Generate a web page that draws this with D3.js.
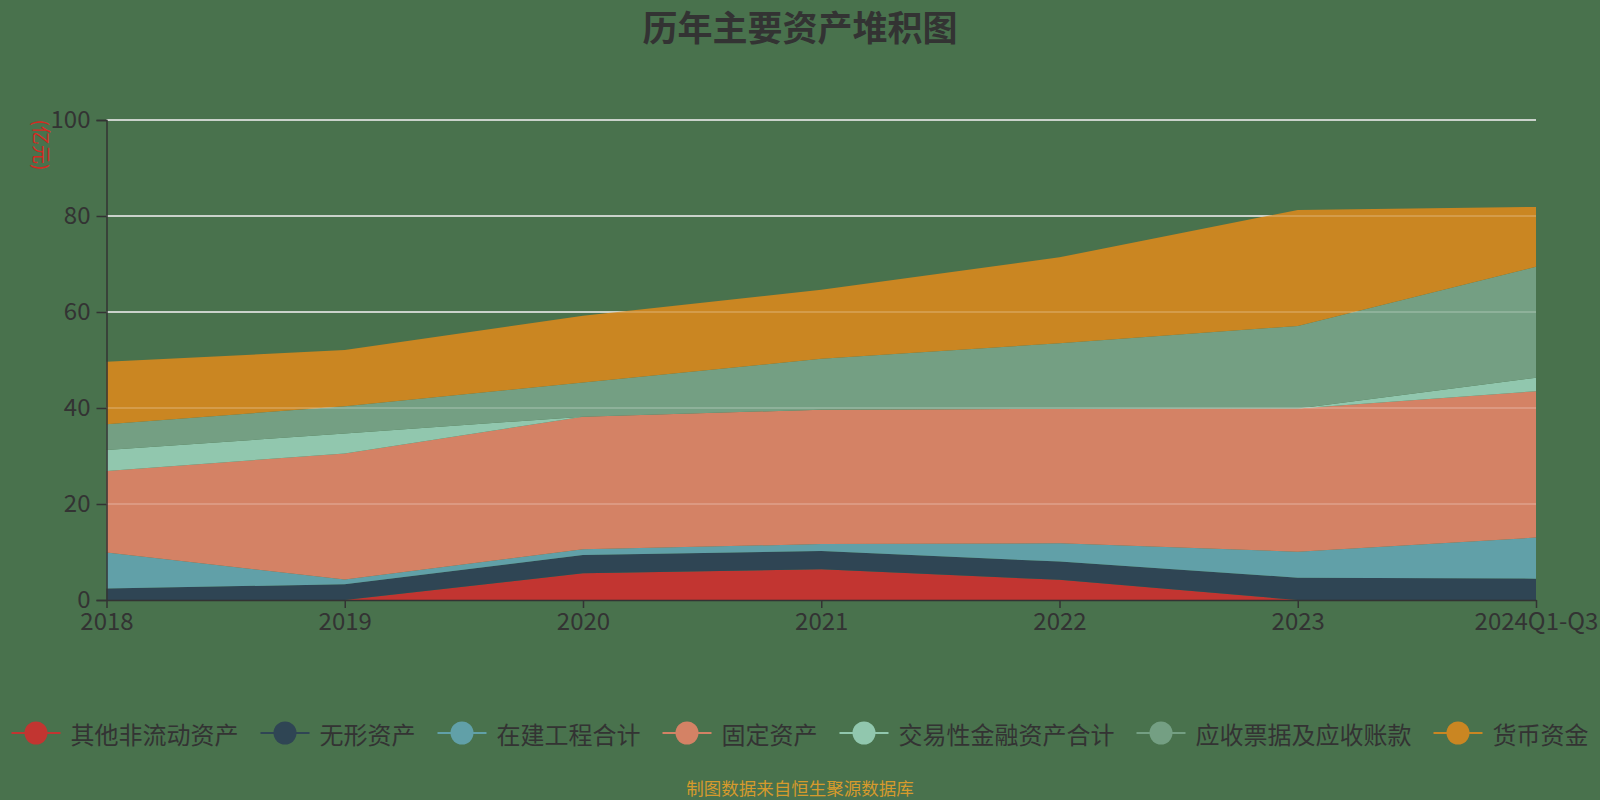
<!DOCTYPE html>
<html>
<head>
<meta charset="utf-8">
<script src="https://cdn.jsdelivr.net/npm/d3@7"></script>
<style>
  html, body { margin: 0; padding: 0; background: #49724d; }
  svg { display: block; font-family: "Noto Sans CJK SC", "Noto Sans", sans-serif; }
</style>
</head>
<body>
<div id="chart"></div>
<script>
// Categories and series (亿元), bottom of the stack first
const years = ['2018', '2019', '2020', '2021', '2022', '2023', '2024Q1-Q3'];
const otherNonCurrent = [0, 0, 5.55, 6.4, 4.2, 0, 0];
const intangible = [2.4, 3.27, 3.85, 3.8, 3.8, 4.65, 4.45];
const construction = [7.5, 1.0, 1.15, 1.45, 3.8, 5.4, 8.55];
const fixedAssets = [17.0, 26.25, 27.65, 28.0, 28.0, 29.85, 30.5];
const tradingFin = [4.35, 4.15, 0, 0, 0, 0, 2.8];
const receivables = [5.35, 5.7, 7.1, 10.6, 13.7, 17.2, 23.15];
const cash = [13.05, 11.7, 13.9, 14.4, 17.9, 24.15, 12.45];

const seriesNames = ['其他非流动资产', '无形资产', '在建工程合计', '固定资产', '交易性金融资产合计', '应收票据及应收账款', '货币资金'];
const seriesValues = [otherNonCurrent, intangible, construction, fixedAssets, tradingFin, receivables, cash];
const colors = ['#c23531', '#2f4554', '#61a0a8', '#d48265', '#91c7ae', '#749f83', '#ca8622'];
const yTicks = [0, 20, 40, 60, 80, 100];

const width = 1600, height = 800;
const margin = { top: 120, right: 64, bottom: 200, left: 106.5 };

const svg = d3.select('#chart')
  .append('svg')
  .attr('width', width)
  .attr('height', height);

// Build the table rows the stack needs
const rows = years.map((year, i) => {
  const row = { year };
  seriesNames.forEach((name, s) => { row[name] = seriesValues[s][i]; });
  return row;
});

const x = d3.scalePoint()
  .domain(years)
  .range([margin.left, width - margin.right]);

const y = d3.scaleLinear()
  .domain([0, 100])
  .range([height - margin.bottom, margin.top]);

const stacked = d3.stack().keys(seriesNames)(rows);

// Grid lines under the areas
svg.append('g')
  .selectAll('line')
  .data(yTicks.filter(d => d > 0))
  .join('line')
  .attr('x1', x.range()[0])
  .attr('x2', x.range()[1])
  .attr('y1', d => y(d))
  .attr('y2', d => y(d))
  .attr('stroke', '#e6e6e6')
  .attr('stroke-width', 1.5);

const area = d3.area()
  .x(d => x(d.data.year))
  .y0(d => y(d[0]))
  .y1(d => y(d[1]));

svg.append('g')
  .selectAll('path')
  .data(stacked)
  .join('path')
  .attr('fill', (d, i) => colors[i])
  .attr('d', area);

// Faint grid lines showing through the areas
svg.append('g')
  .selectAll('line')
  .data(yTicks.filter(d => d > 0))
  .join('line')
  .attr('x1', x.range()[0])
  .attr('x2', x.range()[1])
  .attr('y1', d => y(d))
  .attr('y2', d => y(d))
  .attr('stroke', '#ffffff')
  .attr('stroke-opacity', 0.25)
  .attr('stroke-width', 1.5);

// Axes
const yAxis = d3.axisLeft(y)
  .tickValues(yTicks)
  .tickSize(10)
  .tickPadding(6);

const yAxisGroup = svg.append('g')
  .attr('transform', `translate(${margin.left},0)`)
  .call(yAxis);

const xAxis = d3.axisBottom(x)
  .tickSize(8)
  .tickPadding(5)
  .tickSizeOuter(0);

const xAxisGroup = svg.append('g')
  .attr('transform', `translate(0,${height - margin.bottom})`)
  .call(xAxis);

[yAxisGroup, xAxisGroup].forEach(g => {
  g.select('.domain').attr('stroke', '#333').attr('stroke-width', 1.5);
  g.selectAll('.tick line').attr('stroke', '#333').attr('stroke-width', 1.5);
  g.selectAll('.tick text')
    .attr('fill', '#333')
    .style('font-size', '24px')
    .style('font-family', '"Noto Sans CJK SC", sans-serif');
});

// Unit label
svg.append('text')
  .attr('transform', 'translate(42,145) rotate(90)')
  .attr('text-anchor', 'middle')
  .attr('dominant-baseline', 'central')
  .attr('fill', '#d42a22')
  .style('font-size', '19px')
  .text('(亿元)');

// Title
svg.append('text')
  .attr('x', width / 2)
  .attr('y', 25)
  .attr('text-anchor', 'middle')
  .attr('dominant-baseline', 'central')
  .attr('fill', '#333')
  .style('font-size', '35px')
  .style('font-weight', 'bold')
  .text('历年主要资产堆积图');

// Legend: line-with-circle icon, then label, centred as a row
const legend = svg.append('g').attr('transform', 'translate(0,733)');
const iconW = 49, textGap = 10, itemGap = 22;
const items = legend.selectAll('g')
  .data(seriesNames)
  .join('g');

items.append('line')
  .attr('x1', 0)
  .attr('x2', iconW)
  .attr('stroke', (d, i) => colors[i])
  .attr('stroke-width', 2);

items.append('circle')
  .attr('cx', iconW / 2)
  .attr('r', 11.5)
  .attr('fill', (d, i) => colors[i]);

items.append('text')
  .attr('x', iconW + textGap)
  .attr('dominant-baseline', 'central')
  .attr('fill', '#333')
  .style('font-size', '24px')
  .text(d => d);

let offsets = [], total = 0;
items.each(function () {
  const w = iconW + textGap + d3.select(this).select('text').node().getComputedTextLength();
  offsets.push(total);
  total += w + itemGap;
});
total -= itemGap;
const startX = width / 2 - total / 2;
items.attr('transform', (d, i) => `translate(${startX + offsets[i]},0)`);

// Source note
svg.append('text')
  .attr('x', width / 2)
  .attr('y', 787)
  .attr('text-anchor', 'middle')
  .attr('dominant-baseline', 'central')
  .attr('fill', '#d69a2c')
  .style('font-size', '17.5px')
  .text('制图数据来自恒生聚源数据库');
</script>
</body>
</html>
